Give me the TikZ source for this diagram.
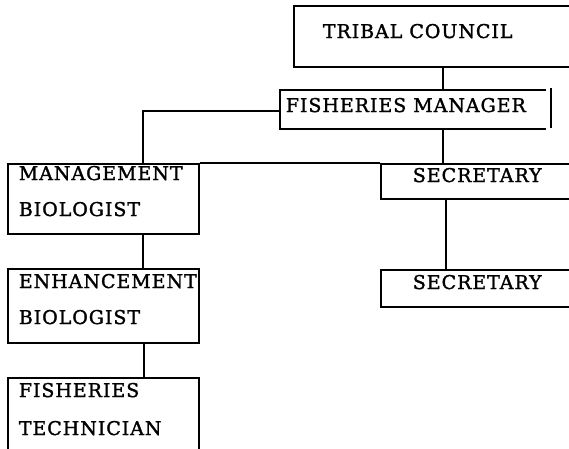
\documentclass[tikz,border=0pt]{standalone}
\usepackage{fontspec}
\setmainfont{DejaVu Serif}[LetterSpace=5,FakeBold=1.5]
\begin{document}
\begin{tikzpicture}[x=1pt,y=-1pt,
  line width=1.7pt,
  box/.style={draw=black, rectangle, inner sep=0pt, anchor=north west},
  openbox/.style={rectangle, inner sep=0pt, anchor=north west},
  label/.style={anchor=base west, inner sep=0pt, font=\fontsize{19}{22}\selectfont},
  link/.style={draw=black, line width=1.7pt}]
\useasboundingbox (0,0) rectangle (569,448);
\clip (0,0) rectangle (569,448);

% boxes
\node[box, minimum width=290pt, minimum height=61pt] (tc) at (293,5) {};
\node[openbox, minimum width=264pt, minimum height=37pt] (fm) at (280,90) {};
\node[box, minimum width=191pt, minimum height=70pt] (mb) at (7,163) {};
\node[box, minimum width=191pt, minimum height=74pt] (eb) at (7,268) {};
\node[box, minimum width=191pt, minimum height=72pt] (ft) at (7,377) {};
\node[box, minimum width=200pt, minimum height=35pt] (s1) at (380,163) {};
\node[box, minimum width=200pt, minimum height=37pt] (s2) at (380,269) {};

% fisheries manager: three sides plus a separate right rule
\draw (fm.north east) -- (fm.north west) -- (fm.south west) -- (fm.south east);
\draw ([xshift=5pt,yshift=2pt]fm.north east) -- ([xshift=5pt,yshift=1pt]fm.south east);

% texts
\node[label] (tc-t) at (322,38) {TRIBAL COUNCIL};
\node[label] (fm-t) at (285,112) {FISHERIES MANAGER};
\node[label] (mb-t1) at (18,180) {MANAGEMENT};
\node[label] (mb-t2) at (18,216) {BIOLOGIST};
\node[label] (eb-t1) at (18,288) {ENHANCEMENT};
\node[label] (eb-t2) at (18,324) {BIOLOGIST};
\node[label] (ft-t1) at (18,397) {FISHERIES};
\node[label] (ft-t2) at (18,435) {TECHNICIAN};
\node[label] (s1-t) at (412,182) {SECRETARY};
\node[label] (s2-t) at (412,289) {SECRETARY};

% connectors
\draw[link] (tc.south -| 443,0) -- (fm.north -| 443,0);
\draw[link] (fm.south -| 443,0) -- (s1.north -| 443,0);
\draw[link] (fm.west |- 0,111) -| (mb.north -| 143,0);
\draw[link] (mb.north east) -- (s1.north west);
\draw[link] (s1.south -| 446,0) -- (s2.north -| 446,0);
\draw[link] (mb.south -| 143,0) -- (eb.north -| 143,0);
\draw[link] (eb.south -| 144,0) -- (ft.north -| 144,0);
\end{tikzpicture}
\end{document}
